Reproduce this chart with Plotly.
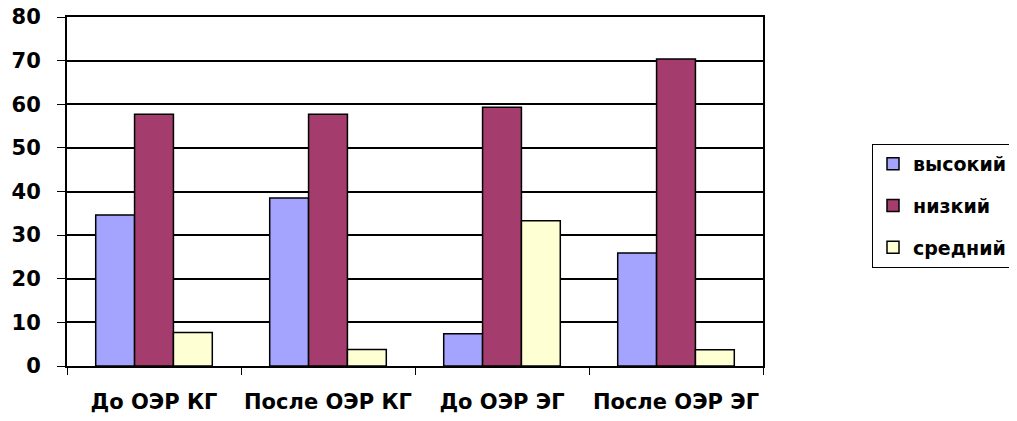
import plotly.graph_objects as go

categories = ["До ОЭР КГ", "После ОЭР КГ", "До ОЭР ЭГ", "После ОЭР ЭГ"]
series_names = ["высокий", "низкий", "средний"]
vysokiy = [34.6, 38.5, 7.4, 25.9]
nizkiy = [57.7, 57.7, 59.3, 70.4]
sredniy = [7.7, 3.8, 33.3, 3.7]
colors = ["#A4A4FF", "#A43C6E", "#FFFFD4"]

fig = go.Figure()
for name, vals, col in zip(series_names, [vysokiy, nizkiy, sredniy], colors):
    fig.add_trace(go.Bar(
        x=categories, y=vals, name=name, legendgroup=name,
        marker=dict(color=col, line=dict(color="black", width=1.5)),
    ))

font_family = "DejaVu Sans"
OFF_X, OFF_Y = 8, 9  # page offset compensation
fig.update_layout(
    width=1017, height=421,
    margin=dict(l=67 - OFF_X, r=254 + OFF_X, t=18 - OFF_Y, b=54 + OFF_Y, autoexpand=False),
    paper_bgcolor="white", plot_bgcolor="white",
    barmode="group", bargap=0.33, bargroupgap=0,
    font=dict(family=font_family, size=20, color="black", weight="bold"),
    legend=dict(
        xref="container", yref="container",
        x=(872 - OFF_X) / 1017, y=1 - (145 - OFF_Y) / 421, xanchor="left", yanchor="top",
        bordercolor="black", borderwidth=1, bgcolor="white",
        font=dict(family=font_family, size=19, color="black", weight="bold"),
        tracegroupgap=14, itemwidth=30,
    ),
    showlegend=True,
)
fig.update_xaxes(
    automargin=False, tickangle=0,
    showline=True, linecolor="black", linewidth=2, mirror=True,
    ticks="outside", tickson="boundaries", ticklen=7, tickcolor="black",
    tickfont=dict(family=font_family, size=21, color="black", weight="bold"),
    ticklabelstandoff=16, ticklabeloverflow="allow",
)
fig.update_yaxes(
    automargin=False,
    range=[0, 80], dtick=10,
    showline=True, linecolor="black", linewidth=2, mirror=True,
    showgrid=True, gridcolor="black", gridwidth=1.5,
    ticks="outside", ticklen=8, tickcolor="black",
    tickfont=dict(family=font_family, size=21, color="black", weight="bold"),
    ticklabelstandoff=12, ticklabeloverflow="allow",
    zeroline=False,
)
fig.write_html("out.html")
